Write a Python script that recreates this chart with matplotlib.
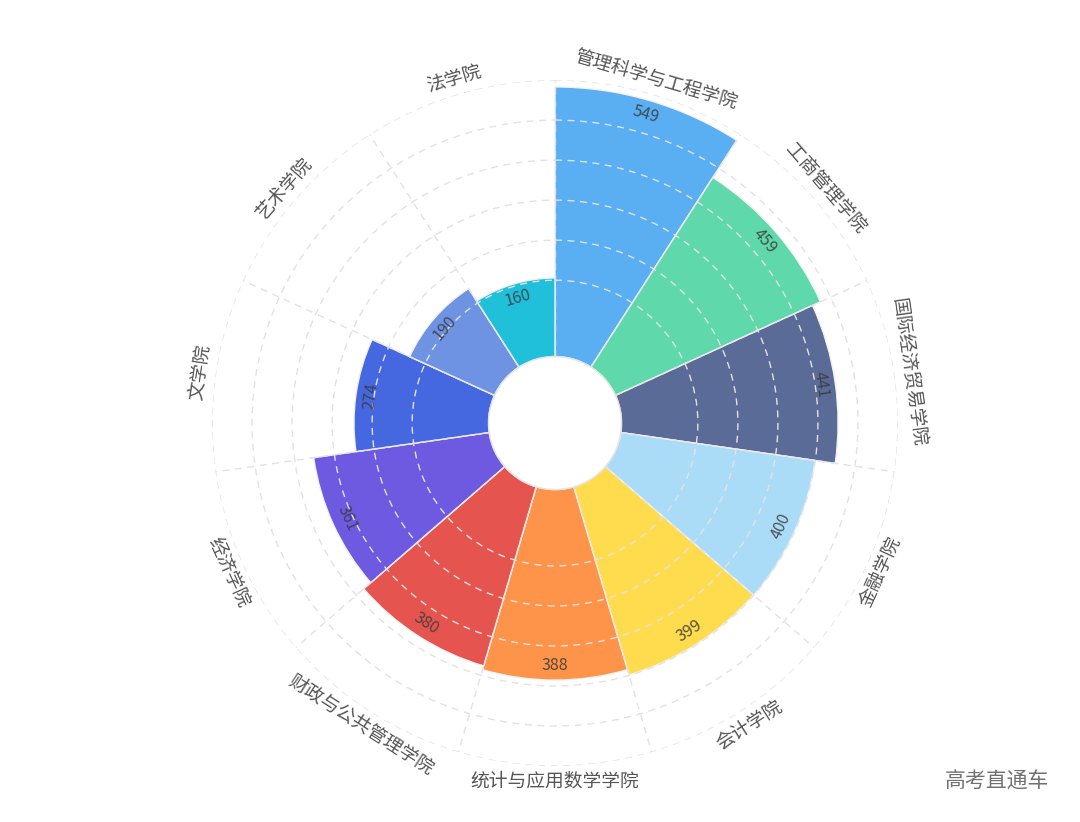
import numpy as np
import matplotlib
matplotlib.use('Agg')
import matplotlib.pyplot as plt

plt.rcParams['font.family'] = ['Noto Sans CJK SC', 'DejaVu Sans']

# 各学院数据
schools = ['管理科学与工程学院', '工商管理学院', '国际经济贸易学院', '金融学院', '会计学院',
           '统计与应用数学学院', '财政与公共管理学院', '经济学院', '文学院', '艺术学院', '法学院']
values = [549, 459, 441, 400, 399, 388, 380, 361, 274, 190, 160]
colors = ['#5aaef2', '#5fd8ab', '#5a6b97', '#abdcf7', '#fedc4e', '#fe944a',
          '#e5544f', '#6e59e1', '#4568e0', '#6e93e3', '#20c0db']
grid_vals = [155.5, 237, 318.5, 400, 481.5, 563]

fig = plt.figure(figsize=(10.8, 8.22), dpi=100)
ax = fig.add_axes([0.1963, 0.0681, 0.6352, 0.8345], projection='polar')
ax.set_theta_zero_location('N')
ax.set_theta_direction(-1)
ax.set_rorigin(-135.4)
ax.set_ylim(0, 563)

n = len(schools)
w = 2 * np.pi / n
theta = np.arange(n) * w + w / 2

ax.bar(theta, values, width=w, color=colors, edgecolor='#f2f2f2', linewidth=1, zorder=1)

# 网格画在扇形上方
ax.set_axisbelow(False)
ax.set_xticks(np.arange(n) * w)
ax.set_xticklabels([])
ax.set_yticks(grid_vals)
ax.set_yticklabels([])
ax.grid(True, color='#e2e2e2', linestyle=(0, (5, 4)), linewidth=1)
# polar 的 draw() 会重新打开 inner 等 spine，只能改颜色
for s in ax.spines.values():
    s.set_edgecolor('none')
ax.spines['inner'].set_edgecolor('#e4e4e4')
ax.spines['inner'].set_linewidth(1)
ax.tick_params(length=0)

for t, v, name in zip(theta, values, schools):
    a = np.degrees(t)
    rot = 180 - a if 90 < a < 270 else -a
    ax.text(t, v - 30, str(v), rotation=rot, rotation_mode='anchor',
            ha='center', va='center', fontsize=11.5, color='#3a3a3a', alpha=0.85, zorder=4)
    ax.text(t, 594, name, rotation=rot, rotation_mode='anchor',
            ha='center', va='center', fontsize=13.5, color='#555555')

fig.text(0.923, 0.049, '高考直通车', ha='center', va='center', fontsize=15, color='#707070')

fig.savefig('out.png', dpi=100, facecolor='white')
